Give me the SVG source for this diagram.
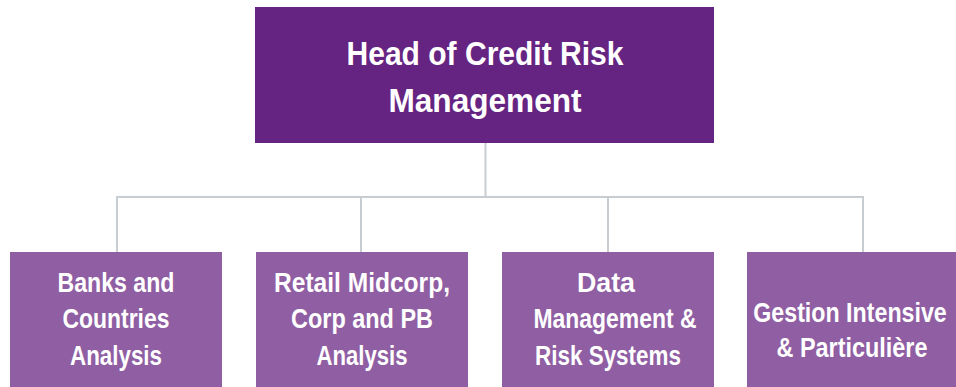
<svg xmlns="http://www.w3.org/2000/svg" width="956" height="387" viewBox="0 0 956 387">
<style>
.top{fill:#662482}
.box{fill:#8f5ea3}
.t{font-family:"Liberation Sans",Arial,sans-serif;font-weight:bold;fill:#ffffff;text-anchor:middle}
.tt{font-size:33px}
.bt{font-size:27px}
.c{fill:none;stroke:#c8cdd1;stroke-width:2}
</style>
<rect width="956" height="387" fill="#ffffff"/>
<g id="connectors">
<path class="c" d="M485.5 143 V197 M117 252 V197 H863 V252 M361 197 V252 M608 197 V252"/>
</g>
<g id="head">
<rect class="top" x="255" y="7" width="459" height="136"/>
<text class="t tt" x="485" y="65" textLength="277" lengthAdjust="spacingAndGlyphs">Head of Credit Risk</text>
<text class="t tt" x="485" y="112" textLength="193" lengthAdjust="spacingAndGlyphs">Management</text>
</g>
<g id="banks">
<rect class="box" x="10" y="252" width="212" height="135"/>
<text class="t bt" x="116" y="292" textLength="117" lengthAdjust="spacingAndGlyphs">Banks and</text>
<text class="t bt" x="116" y="328" textLength="107" lengthAdjust="spacingAndGlyphs">Countries</text>
<text class="t bt" x="116" y="365" textLength="92" lengthAdjust="spacingAndGlyphs">Analysis</text>
</g>
<g id="retail">
<rect class="box" x="256" y="252" width="212" height="135"/>
<text class="t bt" x="362" y="292" textLength="176" lengthAdjust="spacingAndGlyphs">Retail Midcorp,</text>
<text class="t bt" x="362" y="328" textLength="142" lengthAdjust="spacingAndGlyphs">Corp and PB</text>
<text class="t bt" x="362" y="365" textLength="91" lengthAdjust="spacingAndGlyphs">Analysis</text>
</g>
<g id="data">
<rect class="box" x="502" y="252" width="212" height="135"/>
<text class="t bt" x="606" y="292" textLength="58" lengthAdjust="spacingAndGlyphs">Data</text>
<text class="t bt" x="615" y="328" textLength="163" lengthAdjust="spacingAndGlyphs">Management &amp;</text>
<text class="t bt" x="608" y="365" textLength="146" lengthAdjust="spacingAndGlyphs">Risk Systems</text>
</g>
<g id="gestion">
<rect class="box" x="747" y="252" width="209" height="135"/>
<text class="t bt" transform="translate(850 322) scale(0.86 1)" x="0" y="0">Gestion Intensive</text>
<text class="t bt" x="852" y="357" textLength="151" lengthAdjust="spacingAndGlyphs">&amp; Particulière</text>
</g>
</svg>
